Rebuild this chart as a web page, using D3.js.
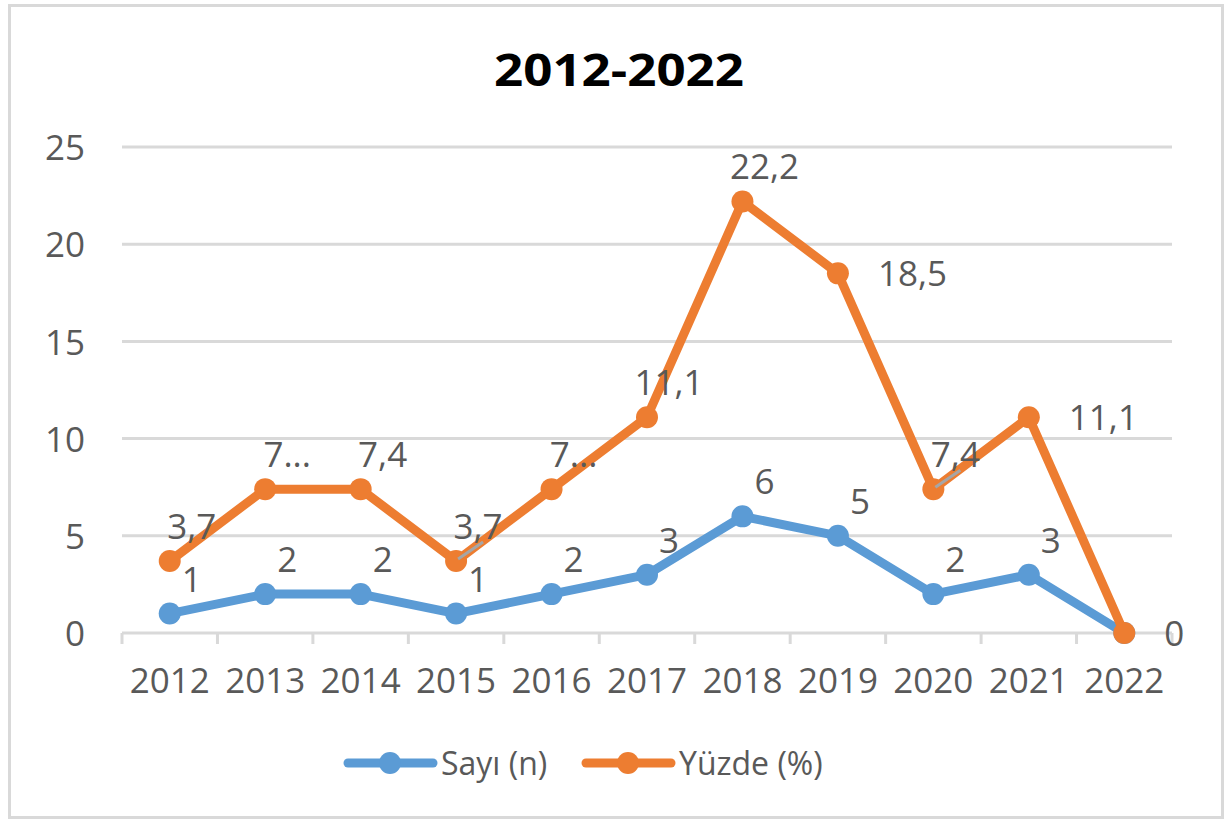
<!DOCTYPE html>
<html lang="tr">
<head>
    <meta charset="UTF-8">
    <script src="https://cdn.jsdelivr.net/npm/d3@7"></script>
    <title>2012-2022</title>
    <style>
        body { margin: 0; background: #fff; }
        text { font-family: "Open Sans", sans-serif; fill: #595959; }
    </style>
</head>
<body>
</body>
<script>
    var years = ["2012", "2013", "2014", "2015", "2016", "2017", "2018", "2019", "2020", "2021", "2022"];
    var sayi = [1, 2, 2, 1, 2, 3, 6, 5, 2, 3, 0];
    var yuzde = [3.7, 7.4, 7.4, 3.7, 7.4, 11.1, 22.2, 18.5, 7.4, 11.1, 0];
    // etiketler (Excel'deki gibi bazıları kesik)
    var yuzdeLabels = ["3,7", "7...", "7,4", "3,7", "7...", "11,1", "22,2", "18,5", "7,4", "11,1", "0"];
    var sayiLabels = ["1", "2", "2", "1", "2", "3", "6", "5", "2", "3", ""];
    var yTicks = [0, 5, 10, 15, 20, 25];
    var seriesNames = ["Sayı (n)", "Yüzde (%)"];
    var colors = ["#5B9BD5", "#ED7D31"];

    // etiket yerleşimi: t = üstte, r = sağda
    var yuzdePos = ["t", "t", "t", "t", "t", "t", "t", "r", "t", "r", "r"];
    var sayiPos = ["t", "t", "t", "t", "t", "t", "t", "t", "t", "t", "t"];
    var leader = [false, false, false, true, false, false, false, false, true, false, false];

    var W = 1229, H = 820;
    var svg = d3.select("body").append("svg")
        .attr("width", W)
        .attr("height", H);

    svg.append("rect")
        .attr("x", 9.5).attr("y", 5.5)
        .attr("width", 1213).attr("height", 812)
        .attr("fill", "#fff")
        .attr("stroke", "#D9D9D9")
        .attr("stroke-width", 3);

    svg.append("text")
        .attr("x", 619).attr("y", 86)
        .attr("text-anchor", "middle")
        .attr("textLength", 250)
        .attr("lengthAdjust", "spacingAndGlyphs")
        .style("font-weight", "bold")
        .style("font-size", "45px")
        .style("fill", "#000")
        .text("2012-2022");

    var x = d3.scaleBand().domain(years).range([122, 1172]);
    var y = d3.scaleLinear().domain([0, 25]).range([633, 147]);

    // grid
    svg.append("g").selectAll("line")
        .data(yTicks.slice(1))
        .enter().append("line")
        .attr("x1", 122).attr("x2", 1172)
        .attr("y1", d => y(d)).attr("y2", d => y(d))
        .attr("stroke", "#D9D9D9").attr("stroke-width", 3);

    // y axis labels
    var yAxis = d3.axisLeft(y).tickValues(yTicks).tickSize(0).tickPadding(0);
    var gy = svg.append("g").attr("transform", "translate(85,0)").call(yAxis);
    gy.select(".domain").remove();
    gy.selectAll("text")
        .style("font-size", "35px")
        .attr("dy", "0.36em");

    // x axis
    var gx = svg.append("g").attr("transform", "translate(0," + y(0) + ")");
    gx.append("line")
        .attr("x1", 122).attr("x2", 1172)
        .attr("stroke", "#D9D9D9").attr("stroke-width", 3);
    var bounds = years.map(d => x(d)).concat([x.range()[1]]);
    gx.selectAll("line.tk")
        .data(bounds)
        .enter().append("line")
        .attr("class", "tk")
        .attr("x1", d => d).attr("x2", d => d)
        .attr("y1", 0).attr("y2", 11)
        .attr("stroke", "#D9D9D9").attr("stroke-width", 3);
    gx.selectAll("text")
        .data(years)
        .enter().append("text")
        .attr("x", d => x(d) + x.bandwidth() / 2)
        .attr("y", 60)
        .attr("text-anchor", "middle")
        .style("font-size", "35px")
        .text(d => d);

    var cx = (d, i) => x(years[i]) + x.bandwidth() / 2;
    var line = d3.line().x(cx).y(d => y(d));

    function drawSeries(values, color) {
        svg.append("path")
            .datum(values)
            .attr("d", line)
            .attr("fill", "none")
            .attr("stroke", color)
            .attr("stroke-width", 9)
            .attr("stroke-linejoin", "round")
            .attr("stroke-linecap", "round");
        svg.append("g").selectAll("circle")
            .data(values)
            .enter().append("circle")
            .attr("cx", cx)
            .attr("cy", d => y(d))
            .attr("r", 11)
            .attr("fill", color);
    }

    function drawLabels(values, labels, pos) {
        svg.append("g").selectAll("text")
            .data(values)
            .enter().append("text")
            .attr("x", (d, i) => pos[i] == "r" ? cx(d, i) + 40 : cx(d, i) + 22)
            .attr("y", (d, i) => pos[i] == "r" ? y(d) + 13 : y(d) - 22)
            .attr("text-anchor", (d, i) => pos[i] == "r" ? "start" : "middle")
            .style("font-size", "35px")
            .text((d, i) => labels[i]);
    }

    drawSeries(sayi, colors[0]);
    drawSeries(yuzde, colors[1]);

    // leader lines
    svg.append("g").selectAll("line")
        .data(yuzde.map((d, i) => [d, i]).filter(p => leader[p[1]]))
        .enter().append("line")
        .attr("x1", p => cx(p[0], p[1]) + 2)
        .attr("y1", p => y(p[0]) - 2)
        .attr("x2", p => cx(p[0], p[1]) + 27)
        .attr("y2", p => y(p[0]) - 19)
        .attr("stroke", "#A6A6A6").attr("stroke-width", 3);

    drawLabels(sayi, sayiLabels, sayiPos);
    drawLabels(yuzde, yuzdeLabels, yuzdePos);

    // legend
    var legendX = [348, 586];
    var lg = svg.append("g").selectAll("g")
        .data(seriesNames)
        .enter().append("g")
        .attr("transform", (d, i) => "translate(" + legendX[i] + ",763)");
    lg.append("line")
        .attr("x1", 0).attr("x2", 85)
        .attr("stroke", (d, i) => colors[i])
        .attr("stroke-width", 9)
        .attr("stroke-linecap", "round");
    lg.append("circle")
        .attr("cx", 42).attr("r", 11)
        .attr("fill", (d, i) => colors[i]);
    lg.append("text")
        .attr("x", 93).attr("y", 12)
        .style("font-size", "32px")
        .text(d => d);
</script>
</html>
